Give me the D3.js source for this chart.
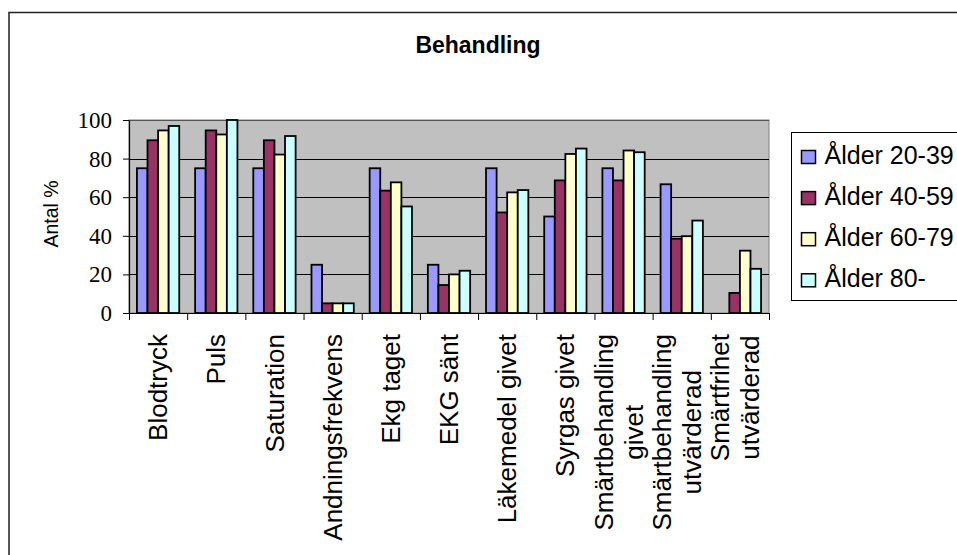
<!DOCTYPE html>
<html>
<head>
<meta charset="utf-8">
<script src="https://cdn.jsdelivr.net/npm/d3@7"></script>
<style>
  body { margin: 0; background: #fff; }
  svg { display: block; }
</style>
</head>
<body>
<div id="chart"></div>
<script>
// DATA
const categories = ["Blodtryck", "Puls", "Saturation", "Andningsfrekvens", "Ekg taget",
  "EKG sänt", "Läkemedel givet", "Syrgas givet", "Smärtbehandling givet",
  "Smärtbehandling utvärderad", "Smärtfrihet utvärderad"]
const tickLabels = [["Blodtryck"], ["Puls"], ["Saturation"], ["Andningsfrekvens"], ["Ekg taget"],
  ["EKG sänt"], ["Läkemedel givet"], ["Syrgas givet"], ["Smärtbehandling", "givet"],
  ["Smärtbehandling", "utvärderad"], ["Smärtfrihet", "utvärderad"]]
const seriesNames = ["Ålder 20-39", "Ålder 40-59", "Ålder 60-79", "Ålder 80-"]
const age20 = [75, 75, 75, 25, 75, 25, 75, 50, 75, 66.7, 0]
const age40 = [89.5, 94.6, 89.5, 5, 63.4, 14.5, 52.1, 68.7, 68.7, 38.5, 10.4]
const age60 = [94.6, 92.5, 82.1, 5, 67.7, 20, 62.5, 82.4, 84.2, 39.8, 32.3]
const age80 = [96.9, 100, 91.7, 5, 55.2, 21.9, 63.7, 85.2, 83.3, 47.9, 22.9]
const yTicks = [0, 20, 40, 60, 80, 100]
const colors = ["#9999FF", "#993366", "#FFFFCC", "#CCFFFF"]

const seriesValues = [age20, age40, age60, age80]
const dataset = categories.map((c, i) => ({
  category: c,
  values: seriesNames.map((s, j) => ({ series: s, value: seriesValues[j][i] }))
}))

// DIMENSIONS
const dimensions = {
  width: 957,
  height: 555,
  margin: { top: 120, left: 129, right: 188, bottom: 242 }
}
dimensions.boundedWidth = dimensions.width - dimensions.margin.left - dimensions.margin.right
dimensions.boundedHeight = dimensions.height - dimensions.margin.top - dimensions.margin.bottom

const sans = "'Liberation Sans', Arial, sans-serif"
const serif = "'Liberation Serif', 'Times New Roman', serif"

// CANVAS
const wrapper = d3.select("#chart").append("svg")
  .attr("width", dimensions.width)
  .attr("height", dimensions.height)

// chart frame (right & bottom edges fall outside the picture)
wrapper.append("rect")
  .attr("x", 9).attr("y", 12.5)
  .attr("width", 1000).attr("height", 600)
  .attr("fill", "#fff")
  .attr("stroke", "#222")
  .attr("stroke-width", 1.5)

wrapper.append("text")
  .attr("x", 478).attr("y", 53)
  .attr("text-anchor", "middle")
  .style("font-family", sans)
  .style("font-weight", "bold")
  .style("font-size", "23px")
  .text("Behandling")

const bounds = wrapper.append("g")
  .attr("transform", `translate(${dimensions.margin.left},${dimensions.margin.top})`)

// SCALES
const xScale = d3.scaleBand()
  .domain(categories)
  .range([0, dimensions.boundedWidth])
  .padding(0)
const gap = 1.5
const xInner = d3.scaleBand()
  .domain(seriesNames)
  .range([0, xScale.bandwidth()])
  .paddingInner(0)
  .paddingOuter(gap / 2)
const yScale = d3.scaleLinear()
  .domain([0, 100])
  .range([dimensions.boundedHeight, 0])
const colorScale = d3.scaleOrdinal().domain(seriesNames).range(colors)
const xTickScale = d3.scaleLinear()
  .domain([0, categories.length])
  .range([0, dimensions.boundedWidth])

// plot background
bounds.append("rect")
  .attr("width", dimensions.boundedWidth)
  .attr("height", dimensions.boundedHeight)
  .attr("fill", "#C0C0C0")
  .attr("stroke", "#808080")
  .attr("stroke-width", 1)

// gridlines
bounds.append("g")
  .selectAll("line")
  .data(yTicks.filter(d => d > 0))
  .join("line")
  .attr("x1", 0).attr("x2", dimensions.boundedWidth)
  .attr("y1", d => Math.round(yScale(d)) + 0.5)
  .attr("y2", d => Math.round(yScale(d)) + 0.5)
  .attr("stroke", d => d == 100 ? "#555" : "#000")
  .attr("stroke-width", 1)

// BARS
const groups = bounds.append("g")
  .selectAll("g")
  .data(dataset)
  .join("g")
  .attr("transform", d => `translate(${xScale(d.category)},0)`)

groups.selectAll("rect")
  .data(d => d.values)
  .join("rect")
  .attr("x", d => xInner(d.series))
  .attr("y", d => yScale(d.value))
  .attr("width", xInner.bandwidth())
  .attr("height", d => dimensions.boundedHeight - yScale(d.value))
  .attr("fill", d => colorScale(d.series))
  .attr("stroke", "#000")
  .attr("stroke-width", d => d.value > 0 ? 1.8 : 0)

// AXES
const yAxis = bounds.append("g")
  .call(d3.axisLeft(yScale).tickValues(yTicks).tickSize(6).tickSizeOuter(0))
yAxis.select(".domain").attr("stroke", "#000").attr("stroke-width", 1.2)
yAxis.selectAll(".tick line").attr("stroke", "#000")
yAxis.selectAll(".tick text")
  .attr("x", -17)
  .attr("dy", "0.33em")
  .attr("fill", "#000")
  .style("font-family", serif)
  .style("font-size", "23px")

const xAxis = bounds.append("g")
  .attr("transform", `translate(0,${dimensions.boundedHeight})`)
  .call(d3.axisBottom(xTickScale).tickValues(d3.range(categories.length + 1))
    .tickSize(7).tickSizeOuter(0).tickFormat(""))
xAxis.select(".domain").attr("stroke", "#000").attr("stroke-width", 1.2)
xAxis.selectAll(".tick line").attr("stroke", "#000")

// category labels, rotated
const labelSize = 26
const lineHeight = 30
const labels = bounds.append("g")
  .selectAll("g")
  .data(dataset)
  .join("g")
  .attr("transform", d => `translate(${xScale(d.category) + xScale.bandwidth() / 2},${dimensions.boundedHeight + 21}) rotate(-90)`)

labels.each(function (d, i) {
  const g = d3.select(this)
  const lines = tickLabels[i]
  const texts = g.selectAll("text")
    .data(lines)
    .join("text")
    .style("font-family", sans)
    .style("font-size", `${labelSize}px`)
    .attr("fill", "#000")
    .text(t => t)
  const maxLen = d3.max(texts.nodes(), n => n.getComputedTextLength())
  const shift = lines.length > 1 ? -5 : 0
  texts
    .attr("text-anchor", "middle")
    .attr("x", -maxLen / 2)
    .attr("y", (t, k) => 0.35 * labelSize + shift + (k - (lines.length - 1) / 2) * lineHeight)
})

// y axis title
wrapper.append("text")
  .attr("transform", `translate(58,214) rotate(-90)`)
  .attr("text-anchor", "middle")
  .style("font-family", sans)
  .style("font-size", "19.5px")
  .text("Antal %")

// LEGEND
const legendGroup = wrapper.append("g")
  .attr("transform", "translate(791.5,132.5)")
legendGroup.append("rect")
  .attr("width", 200).attr("height", 168)
  .attr("fill", "#fff")
  .attr("stroke", "#000")
  .attr("stroke-width", 1)

seriesNames.forEach((s, i) => {
  const row = legendGroup.append("g")
    .attr("transform", `translate(0,${31 + 41.1 * i})`)
  row.append("rect")
    .attr("x", 10).attr("y", -13)
    .attr("width", 14).attr("height", 13)
    .attr("fill", colorScale(s))
    .attr("stroke", "#000")
    .attr("stroke-width", 1.5)
  row.append("text")
    .attr("x", 33).attr("y", 0)
    .style("font-family", sans)
    .style("font-size", "25px")
    .text(s)
})
</script>
</body>
</html>
